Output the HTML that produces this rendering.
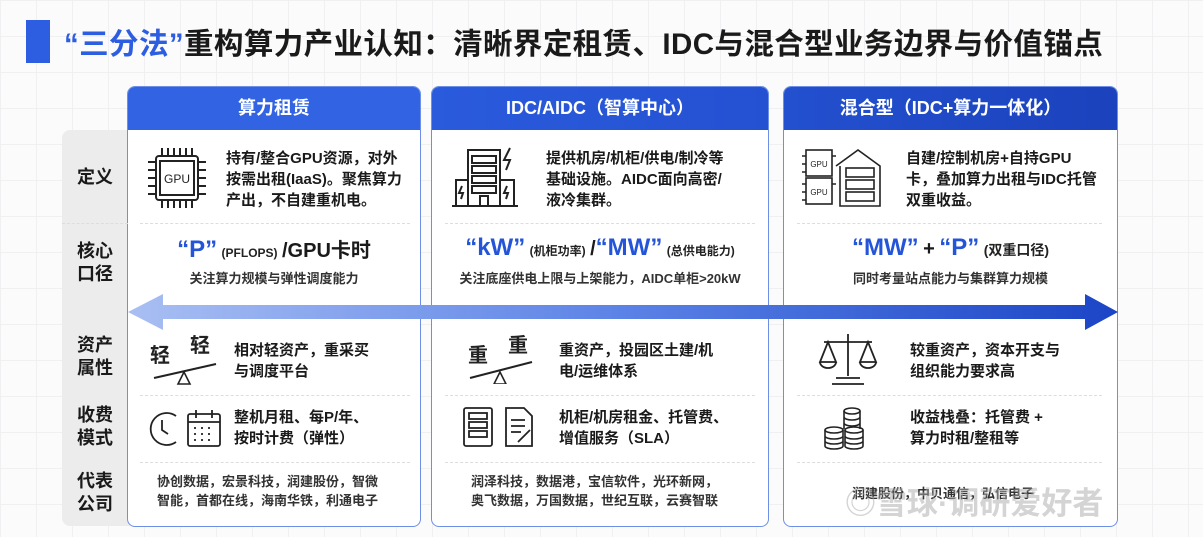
<!DOCTYPE html>
<html><head><meta charset="utf-8"><style>
*{margin:0;padding:0;box-sizing:border-box}
body{width:1203px;height:537px;overflow:hidden;background:#fbfbfc;font-family:"Liberation Sans","Noto Sans CJK SC",sans-serif;position:relative;color:#1a1a1a;
background-image:linear-gradient(#f0f0f3 1px,transparent 1px),linear-gradient(90deg,#f0f0f3 1px,transparent 1px);background-size:36px 36px}
.abs{position:absolute}
.title{left:64px;top:21px;font-size:29.5px;font-weight:bold;letter-spacing:0.4px;white-space:nowrap}
.title .b{color:#2d5de0}
.lab{left:62px;top:130px;width:68px;height:396px;background:#ececec;border-radius:8px 0 0 8px}
.lt{position:absolute;left:62px;width:66px;text-align:center;font-size:18px;font-weight:bold;line-height:23px}
.col{position:absolute;top:86px;height:441px;background:#fff;border:1.5px solid #6d8fe6;border-radius:8px;overflow:hidden}
.hd{height:43px;color:#fff;font-size:18px;font-weight:bold;text-align:center;line-height:43px}
.sep{position:absolute;border-top:1px dashed #ddd;height:0}
.t{position:absolute;font-size:15px;font-weight:bold;line-height:21px;white-space:nowrap}
.s{position:absolute;font-size:13px;line-height:19px;white-space:nowrap;font-weight:bold;color:#333}
.big{position:absolute;text-align:center;white-space:nowrap;font-weight:bold}
.big .q{color:#2455d8;font-size:24px}
.big .m{font-size:12px;color:#222}
.big .k{font-size:20px}
.sub{position:absolute;text-align:center;font-size:13px;font-weight:bold;color:#333;white-space:nowrap}
</style></head><body>
<div class="abs" style="left:26px;top:20px;width:24px;height:43px;background:#2d5de0"></div>
<div class="abs title"><span class="b">“三分法”</span>重构算力产业认知：清晰界定租赁、IDC与混合型业务边界与价值锚点</div>
<div class="abs lab"></div>
<div class="lt" style="top:166px">定义</div>
<div class="lt" style="top:240px">核心<br>口径</div>
<div class="lt" style="top:334px">资产<br>属性</div>
<div class="lt" style="top:404px">收费<br>模式</div>
<div class="lt" style="top:470px">代表<br>公司</div>

<div class="col" style="left:127px;width:294px"><div class="hd" style="background:#3163e2">算力租赁</div></div>
<div class="col" style="left:431px;width:338px"><div class="hd" style="background:linear-gradient(90deg,#2a5bdc,#2451d2)">IDC/AIDC（智算中心）</div></div>
<div class="col" style="left:783px;width:335px"><div class="hd" style="background:linear-gradient(90deg,#2350cf,#1c42bd)">混合型（IDC+算力一体化）</div></div>

<div class="sep" style="left:62px;top:223px;width:66px"></div>
<div class="sep" style="left:140px;top:223px;width:270px"></div>
<div class="sep" style="left:445px;top:223px;width:310px"></div>
<div class="sep" style="left:797px;top:223px;width:305px"></div>
<div class="sep" style="left:140px;top:395px;width:270px"></div>
<div class="sep" style="left:445px;top:395px;width:310px"></div>
<div class="sep" style="left:797px;top:395px;width:305px"></div>
<div class="sep" style="left:140px;top:462px;width:270px"></div>
<div class="sep" style="left:445px;top:462px;width:310px"></div>
<div class="sep" style="left:797px;top:462px;width:305px"></div>

<svg class="abs" style="left:148px;top:148px" width="58" height="60" viewBox="0 0 58 60" fill="none" stroke="#222" stroke-width="2">
<rect x="8" y="8" width="42" height="44" rx="3"/><rect x="12" y="13" width="34" height="34"/>
<text x="29" y="35" font-size="12" text-anchor="middle" fill="#222" stroke="none" font-family="Liberation Sans">GPU</text>
<path d="M14 0v8M20 0v8M26 0v8M32 0v8M38 0v8M44 0v8M14 52v8M20 52v8M26 52v8M32 52v8M38 52v8M44 52v8M0 14h8M0 22h8M0 30h8M0 38h8M0 46h8M50 14h8M50 22h8M50 30h8M50 38h8M50 46h8"/></svg>
<div class="t" style="left:226px;top:148px">持有/整合GPU资源，对外<br>按需出租(IaaS)。聚焦算力<br>产出，不自建重机电。</div>

<svg class="abs" style="left:452px;top:146px" width="80" height="62" viewBox="0 0 80 62" fill="none" stroke="#222" stroke-width="2">
<rect x="16" y="4" width="32" height="56"/><rect x="20" y="10" width="24" height="7"/><rect x="20" y="20" width="24" height="7"/><rect x="20" y="30" width="24" height="7"/><rect x="20" y="40" width="24" height="7"/>
<rect x="4" y="34" width="12" height="26"/><rect x="48" y="34" width="14" height="26"/><path d="M0 60h66M28 60v-10h8v10"/>
<path d="M58 2l-6 12h6l-4 10" /><path d="M10 40l-3 7h4l-2 6M55 40l-3 7h4l-2 6"/></svg>
<div class="t" style="left:546px;top:148px">提供机房/机柜/供电/制冷等<br>基础设施。AIDC面向高密/<br>液冷集群。</div>

<svg class="abs" style="left:800px;top:146px" width="82" height="62" viewBox="0 0 82 62" fill="none" stroke="#222" stroke-width="1.6">
<rect x="6" y="4" width="26" height="26"/><rect x="6" y="32" width="26" height="26"/>
<text x="19" y="21" font-size="8" text-anchor="middle" fill="#222" stroke="none" font-family="Liberation Sans">GPU</text>
<text x="19" y="49" font-size="8" text-anchor="middle" fill="#222" stroke="none" font-family="Liberation Sans">GPU</text>
<path d="M36 20l22-16 22 16v40H40V20"/><rect x="46" y="22" width="28" height="9"/><rect x="46" y="34" width="28" height="9"/><rect x="46" y="46" width="28" height="9"/>
<path d="M2 10h4M2 18h4M2 26h4M2 38h4M2 46h4M2 54h4M32 10h4M32 38h4"/></svg>
<div class="t" style="left:906px;top:148px">自建/控制机房+自持GPU<br>卡，叠加算力出租与IDC托管<br>双重收益。</div>

<div class="big" style="left:127px;width:294px;top:234px"><span class="q">“P”</span> <span class="m">(PFLOPS)</span> <span class="k">/GPU卡时</span></div>
<div class="sub" style="left:127px;width:294px;top:268px">关注算力规模与弹性调度能力</div>
<div class="big" style="left:431px;width:338px;top:234px"><span class="q">“kW”</span> <span class="m">(机柜功率)</span> <span class="k">/</span><span class="q">“MW”</span> <span class="m">(总供电能力)</span></div>
<div class="sub" style="left:431px;width:338px;top:268px">关注底座供电上限与上架能力，AIDC单柜&gt;20kW</div>
<div class="big" style="left:783px;width:335px;top:234px"><span class="q">“MW”</span> <span class="k">+</span> <span class="q">“P”</span> <span class="m" style="font-size:14px">(双重口径)</span></div>
<div class="sub" style="left:783px;width:335px;top:268px">同时考量站点能力与集群算力规模</div>

<svg class="abs" style="left:128px;top:292px" width="992" height="40" viewBox="0 0 992 40">
<defs><linearGradient id="g" x1="0" x2="1"><stop offset="0" stop-color="#a9bff3"/><stop offset="0.5" stop-color="#5b82e6"/><stop offset="1" stop-color="#1b45c6"/></linearGradient></defs>
<path d="M0 20L35 2V13H957V2L990 20L957 38V27H35V38Z" fill="url(#g)"/></svg>

<svg class="abs" style="left:150px;top:334px" width="70" height="52" viewBox="0 0 70 52">
<text x="0" y="28" font-size="20" font-weight="bold" fill="#222" font-family="Noto Sans CJK SC">轻</text>
<text x="40" y="18" font-size="20" font-weight="bold" fill="#222" font-family="Noto Sans CJK SC">轻</text>
<path d="M4 44L66 30" stroke="#222" stroke-width="2"/><path d="M34 38l-6 12h12z" fill="none" stroke="#222" stroke-width="1.6"/></svg>
<div class="t" style="left:234px;top:340px">相对轻资产，重采买<br>与调度平台</div>
<svg class="abs" style="left:466px;top:332px" width="70" height="52" viewBox="0 0 70 52">
<text x="2" y="30" font-size="20" font-weight="bold" fill="#222" font-family="Noto Sans CJK SC">重</text>
<text x="42" y="20" font-size="20" font-weight="bold" fill="#222" font-family="Noto Sans CJK SC">重</text>
<path d="M4 46L66 30" stroke="#222" stroke-width="2"/><path d="M34 40l-6 12h12z" fill="none" stroke="#222" stroke-width="1.6"/></svg>
<div class="t" style="left:559px;top:340px">重资产，投园区土建/机<br>电/运维体系</div>
<svg class="abs" style="left:818px;top:332px" width="60" height="54" viewBox="0 0 60 54" fill="none" stroke="#222" stroke-width="1.8">
<path d="M30 2v42M6 10h48M18 46h24M14 52h32"/><path d="M10 10L2 30h16zM50 10l-8 20h16z"/><path d="M2 30a8 6 0 0 0 16 0M42 30a8 6 0 0 0 16 0"/></svg>
<div class="t" style="left:910px;top:340px">较重资产，资本开支与<br>组织能力要求高</div>

<svg class="abs" style="left:146px;top:408px" width="78" height="40" viewBox="0 0 78 40" fill="none" stroke="#222" stroke-width="1.8">
<path d="M30 8A16 16 0 1 0 30 34"/><path d="M16 12v10l6 4"/><rect x="42" y="6" width="32" height="32" rx="2"/><path d="M42 14h32M50 2v8M66 2v8"/>
<path d="M48 20h2M55 20h2M62 20h2M48 26h2M55 26h2M62 26h2M48 32h2M55 32h2M62 32h2"/></svg>
<div class="t" style="left:234px;top:407px">整机月租、每P/年、<br>按时计费（弹性）</div>
<svg class="abs" style="left:462px;top:406px" width="80" height="42" viewBox="0 0 80 42" fill="none" stroke="#222" stroke-width="1.8">
<rect x="2" y="2" width="28" height="38" rx="2"/><rect x="7" y="7" width="18" height="6"/><rect x="7" y="16" width="18" height="6"/><rect x="7" y="25" width="18" height="6"/>
<path d="M44 2h18l8 8v30H44z"/><path d="M49 14h14M49 20h14M49 26h10"/><path d="M56 36l12-12"/></svg>
<div class="t" style="left:559px;top:407px">机柜/机房租金、托管费、<br>增值服务（SLA）</div>
<svg class="abs" style="left:822px;top:406px" width="52" height="44" viewBox="0 0 52 44" fill="none" stroke="#222" stroke-width="1.6">
<ellipse cx="30" cy="5" rx="8" ry="3"/><path d="M22 5v18M38 5v18M22 11a8 3 0 0 0 16 0M22 17a8 3 0 0 0 16 0"/>
<ellipse cx="12" cy="24" rx="9" ry="3"/><path d="M3 24v16a9 3 0 0 0 18 0V24M3 30a9 3 0 0 0 18 0M3 35a9 3 0 0 0 18 0"/>
<ellipse cx="32" cy="24" rx="9" ry="3"/><path d="M23 24v16a9 3 0 0 0 18 0V24M23 30a9 3 0 0 0 18 0M23 35a9 3 0 0 0 18 0"/></svg>
<div class="t" style="left:910px;top:407px">收益栈叠：托管费 +<br>算力时租/整租等</div>

<div class="s" style="left:157px;top:472px">协创数据，宏景科技，润建股份，智微<br>智能，首都在线，海南华铁，利通电子</div>
<div class="s" style="left:471px;top:472px">润泽科技，数据港，宝信软件，光环新网，<br>奥飞数据，万国数据，世纪互联，云赛智联</div>
<div class="s" style="left:852px;top:484px">润建股份，中贝通信，弘信电子</div>
<div class="abs" style="left:845px;top:478px;font-size:31px;color:rgba(170,170,170,0.5);font-weight:bold;white-space:nowrap">◎雪球·调研爱好者</div>
</body></html>
